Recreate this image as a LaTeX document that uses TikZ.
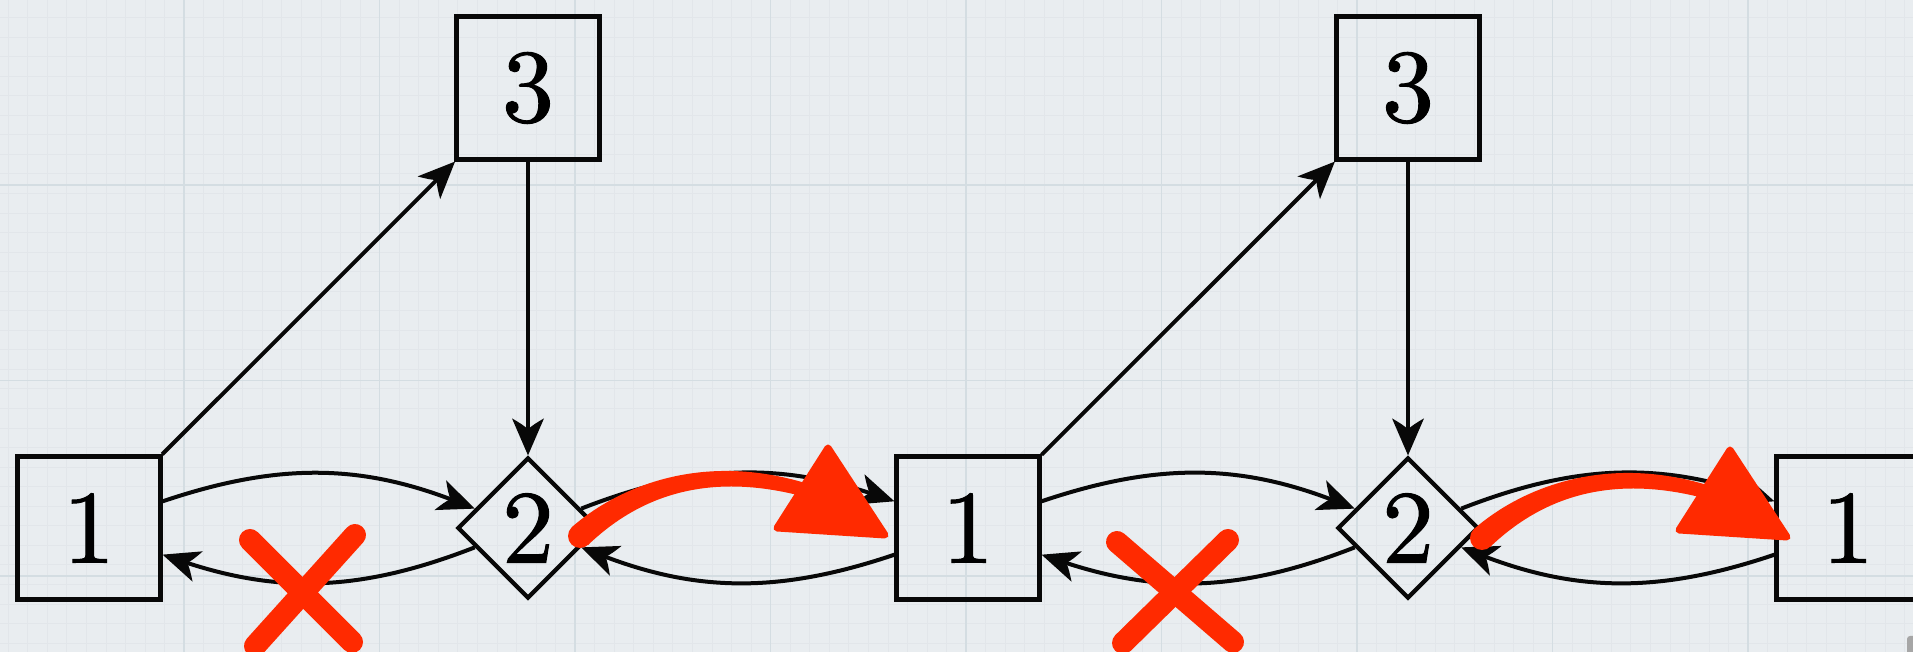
\documentclass[tikz,border=0pt]{standalone}
\usepackage{fontspec}
\usetikzlibrary{arrows.meta,shapes.geometric}

\newfontfamily\numfamily[FakeBold=1]{lmroman10-regular.otf}

\definecolor{paper}{HTML}{E9EDF0}
\definecolor{gridminor}{HTML}{E2E6EA}
\definecolor{gridmajor}{HTML}{D4DDE2}
\definecolor{ink}{HTML}{080808}
\definecolor{marker}{HTML}{FF2A00}

% filled arrow head: straight flanks, shallow curved back
\pgfdeclarearrow{
  name = Barbed,
  setup code = {
    \pgfarrowssettipend{0pt}
    \pgfarrowssetlineend{-20pt}
    \pgfarrowssetvisualbackend{-26pt}
    \pgfarrowssetbackend{-37pt}
    \pgfarrowshullpoint{0pt}{0pt}
    \pgfarrowshullpoint{-37pt}{16pt}
    \pgfarrowshullpoint{-37pt}{-16pt}
  },
  drawing code = {
    \pgfsetfillcolor{ink}
    \pgfpathmoveto{\pgfpointorigin}
    \pgfpathlineto{\pgfpoint{-37pt}{16pt}}
    \pgfpathcurveto{\pgfpoint{-33pt}{9pt}}{\pgfpoint{-29.5pt}{3.5pt}}{\pgfpoint{-26pt}{0pt}}
    \pgfpathcurveto{\pgfpoint{-29.5pt}{-3.5pt}}{\pgfpoint{-33pt}{-9pt}}{\pgfpoint{-37pt}{-16pt}}
    \pgfpathclose
    \pgfusepathqfill
  }
}

\tikzset{
  numfont/.style={font=\numfamily\fontsize{104pt}{104pt}\selectfont},
  sbox/.style={draw=ink, line width=4.2pt, minimum size=143pt, inner sep=0pt, numfont},
  chance/.style={diamond, draw=ink, line width=4.2pt, minimum size=141pt, inner sep=0pt, numfont},
  link/.style={draw=ink, line width=4pt, -{Barbed}},
  swing/.style={link, bend left=20},
  strike/.style={draw=marker, line width=22pt, line cap=round},
  tiphead/.style={fill=marker, draw=marker, line width=7pt, line join=round},
  minorline/.style={draw=gridminor, line width=0.6pt},
  majorline/.style={draw=gridmajor, line width=1.6pt},
}

% tapered red brush stroke ending in a large triangular head
\newcommand\redpointer{%
  \fill[marker] (580,116) circle (12);
  \fill[marker] (572,125) .. controls (618.3,165.4) and (702.2,200.7) .. (806.7,168.5)
    -- (803.4,155.5) .. controls (697.8,183.3) and (631.7,148.6) .. (588,107) -- cycle;
  \filldraw[tiphead] (828,204) -- (777,124) -- (885,117) -- cycle;
}

\begin{document}
\begin{tikzpicture}[x=1pt, y=1pt]
  % paper and grid
  \useasboundingbox (0,0) rectangle (1913,652);
  \clip (0,0) rectangle (1913,652);
  \fill[paper] (0,0) rectangle (1913,652);
  \foreach \i in {0,...,100} {
    \draw[minorline] ({-11.5+\i*19.55},0) -- ({-11.5+\i*19.55},652);
  }
  \foreach \i in {0,...,35} {
    \draw[minorline] (0,{-10.5+\i*19.55}) -- (1913,{-10.5+\i*19.55});
  }
  \foreach \i in {1,...,9} {
    \draw[majorline] ({-11.5+\i*195.5},0) -- ({-11.5+\i*195.5},652);
  }
  \foreach \i in {0,...,3} {
    \draw[majorline] (0,{76+\i*195.5}) -- (1913,{76+\i*195.5});
  }

  % nodes
  \node[sbox]   (a1) at (89,124)   {1};
  \node[chance] (a2) at (528,124)  {2};
  \node[sbox]   (a3) at (528,564)  {3};
  \node[sbox]   (b1) at (968,124)  {1};
  \node[chance] (b2) at (1408,124) {2};
  \node[sbox]   (b3) at (1408,564) {3};
  \node[sbox]   (c1) at (1848,124) {1};

  % connectors
  \draw[link] (a1) -- (a3);
  \draw[link] (a3) -- (a2);
  \draw[swing] (a1) to (a2);
  \draw[swing] (a2) to (a1);
  \draw[swing] (a2) to (b1);
  \draw[swing] (b1) to (a2);

  \draw[link] (b1) -- (b3);
  \draw[link] (b3) -- (b2);
  \draw[swing] (b1) to (b2);
  \draw[swing] (b2) to (b1);
  \draw[swing] (b2) to (c1);
  \draw[swing] (c1) to (b2);

  % red crosses over the lower return edges
  \draw[strike] (250,112) -- (352,10);
  \draw[strike] (355,117) -- (255,6);
  \draw[strike] (1117,110) -- (1233,10);
  \draw[strike] (1228,112) -- (1123,9);

  % red hand-drawn arrows
  \redpointer
  \begin{scope}[xshift=902pt, yshift=-2pt]
    \redpointer
  \end{scope}

  % small grey mark at the lower right corner
  \fill[gray!70, rounded corners=3pt] (1907,-6) rectangle (1916,16);
\end{tikzpicture}
\end{document}
